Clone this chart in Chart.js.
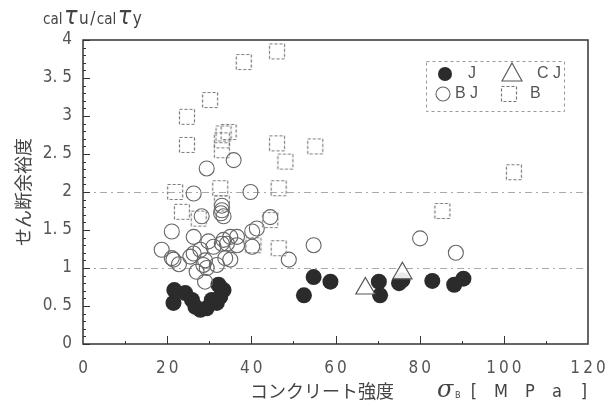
<!DOCTYPE html>
<html lang="ja">
<head>
<meta charset="UTF-8">
<title>せん断余裕度</title>
<script src="https://cdn.jsdelivr.net/npm/chart.js"></script>
<style>
  body, html { margin: 0; padding: 0; background: #fff; }
  #wrap { width: 605px; height: 407px; }
</style>
</head>
<body>
<div id="wrap"><canvas id="chart" width="605" height="407"></canvas></div>
<script>
// J (filled circles)
const jX = [21.7, 21.5, 24.3, 25.9, 27.9, 26.7, 29.4, 32.2, 32.6, 31.8, 30.6, 33.4, 52.5, 54.8, 58.8, 70.3, 70.6, 75.1, 75.9, 83.0, 88.2, 90.4];
const jY = [0.71, 0.54, 0.67, 0.58, 0.45, 0.49, 0.47, 0.78, 0.62, 0.54, 0.58, 0.71, 0.64, 0.88, 0.82, 0.82, 0.64, 0.80, 0.84, 0.83, 0.78, 0.86];
// CJ (triangles)
const cjX = [67.1, 75.9];
const cjY = [0.73, 0.93];
// BJ (open circles)
const bjX = [18.7, 21.1, 21.1, 21.5, 22.8, 26.3, 26.3, 25.5, 27.9, 28.6, 29.0, 29.4, 29.8, 29.0, 31.0, 31.8, 33.0, 33.8, 34.2, 35.0, 35.0, 36.6, 36.6, 40.2, 40.2, 41.3, 44.5, 29.4, 35.8, 26.3, 39.8, 33.0, 33.4, 33.0, 32.8, 28.2, 33.4, 27.0, 48.9, 54.8, 80.1, 88.6];
const bjY = [1.24, 1.48, 1.13, 1.11, 1.05, 1.41, 1.19, 1.15, 1.24, 1.04, 1.10, 1.00, 1.35, 0.82, 1.28, 1.04, 1.32, 1.13, 1.32, 1.11, 1.41, 1.41, 1.30, 1.48, 1.28, 1.52, 1.67, 2.31, 2.42, 1.98, 2.00, 1.76, 1.68, 1.82, 1.72, 1.68, 1.37, 0.95, 1.11, 1.30, 1.39, 1.20];
// B (dashed squares)
const bX = [46.1, 38.2, 30.2, 24.7, 33.4, 34.6, 24.7, 33.0, 33.0, 46.1, 48.1, 55.2, 46.5, 44.5, 46.5, 21.9, 32.6, 23.5, 27.5, 33.0, 40.5, 85.4, 102.4];
const bY = [3.85, 3.71, 3.21, 2.99, 2.77, 2.79, 2.62, 2.68, 2.55, 2.64, 2.40, 2.60, 2.05, 1.63, 1.26, 2.00, 2.05, 1.74, 1.65, 1.85, 1.30, 1.75, 2.26];

const xTicks = [0, 20, 40, 60, 80, 100, 120];
const yTicks = [0, 0.5, 1, 1.5, 2, 2.5, 3, 3.5, 4];
const refLines = [1, 2];

const tickFont = "'Liberation Sans Narrow', 'DejaVu Sans Condensed', 'Liberation Sans', sans-serif";
const jpFont = "'Noto Sans CJK JP', sans-serif";

function toPts(xs, ys) {
    return xs.map((x, i) => ({ x: x, y: ys[i] }));
}

// dashed square used for the B series
const sq = document.createElement('canvas');
sq.width = 18; sq.height = 18;
(function () {
    const c = sq.getContext('2d');
    c.strokeStyle = '#777';
    c.lineWidth = 1.2;
    c.setLineDash([3, 2]);
    c.strokeRect(1.5, 1.5, 15, 15);
})();

const decor = {
    id: 'decor',
    beforeDatasetsDraw(chart) {
        const ctx = chart.ctx, a = chart.chartArea, ys = chart.scales.y;
        ctx.save();
        ctx.strokeStyle = '#aaa';
        ctx.lineWidth = 1;
        ctx.setLineDash([7, 4, 2, 4]);
        refLines.forEach(v => {
            const py = Math.round(ys.getPixelForValue(v)) + 0.5;
            ctx.beginPath();
            ctx.moveTo(a.left, py);
            ctx.lineTo(a.right, py);
            ctx.stroke();
        });
        ctx.restore();
    },
    afterDatasetsDraw(chart) {
        const ctx = chart.ctx, a = chart.chartArea;
        const xs = chart.scales.x, ys = chart.scales.y;
        ctx.save();
        // frame
        ctx.strokeStyle = '#333';
        ctx.lineWidth = 1.5;
        ctx.strokeRect(a.left, a.top, a.right - a.left, a.bottom - a.top);
        // inner ticks
        ctx.lineWidth = 1;
        for (let i = 0; i <= 40; i++) {
            const v = i / 10;
            const py = Math.round(ys.getPixelForValue(v)) + 0.5;
            const len = (i % 5 === 0) ? 7 : 3;
            ctx.beginPath();
            ctx.moveTo(a.left, py);
            ctx.lineTo(a.left + len, py);
            ctx.stroke();
        }
        for (let v = 10; v < 120; v += 10) {
            const px = Math.round(xs.getPixelForValue(v)) + 0.5;
            const len = (v % 20 === 0) ? 8 : 3;
            ctx.beginPath();
            ctx.moveTo(px, a.bottom);
            ctx.lineTo(px, a.bottom - len);
            ctx.stroke();
        }

        // legend box
        ctx.strokeStyle = '#999';
        ctx.setLineDash([3, 3]);
        ctx.strokeRect(426.5, 61.5, 138, 50);
        ctx.setLineDash([]);
        ctx.fillStyle = '#2b2b2b';
        ctx.beginPath(); ctx.arc(445, 74, 7, 0, Math.PI * 2); ctx.fill();
        ctx.strokeStyle = '#666';
        ctx.lineWidth = 1.1;
        ctx.beginPath(); ctx.arc(443, 94, 7, 0, Math.PI * 2); ctx.stroke();
        ctx.strokeStyle = '#555';
        ctx.beginPath();
        ctx.moveTo(512, 63); ctx.lineTo(522, 81); ctx.lineTo(502, 81); ctx.closePath();
        ctx.stroke();
        ctx.drawImage(sq, 500, 85);
        ctx.fillStyle = '#555';
        ctx.font = "16px 'Liberation Sans', sans-serif";
        ctx.textBaseline = 'middle';
        ctx.textAlign = 'left';
        ctx.fillText('J', 468, 74);
        ctx.fillText('C J', 537, 74);
        ctx.fillText('B J', 455, 94);
        ctx.fillText('B', 530, 94);

        // top-left unit label  calτu / calτy
        ctx.fillStyle = '#444';
        ctx.textBaseline = 'alphabetic';
        let x = 43;
        const parts = [['cal', 15, ''], ['τ', 25, 'italic '], ['u', 17, ''], ['/', 17, ''], ['cal', 15, ''], ['τ', 25, 'italic '], ['y', 17, '']];
        parts.forEach(p => {
            ctx.font = p[2] + p[1] + 'px ' + tickFont;
            ctx.fillText(p[0], x, 24);
            x += ctx.measureText(p[0]).width + 1.5;
        });

        // x axis title
        ctx.font = '18px ' + jpFont;
        ctx.fillText('コンクリート強度', 250, 398);
        ctx.font = "italic 24px 'DejaVu Serif', serif";
        ctx.fillText('σ', 437, 397);
        ctx.font = '9px ' + tickFont;
        ctx.fillText('B', 455, 398);
        ctx.font = '18px ' + tickFont;
        ctx.textAlign = 'center';
        [['[', 474], ['M', 501], ['P', 530], ['a', 557], [']', 584]].forEach(c => {
            ctx.fillText(c[0], c[1], 397);
        });
        ctx.restore();
    }
};

new Chart(document.getElementById('chart'), {
    type: 'scatter',
    data: {
        datasets: [
            { label: 'B', data: toPts(bX, bY), pointStyle: sq },
            { label: 'BJ', data: toPts(bjX, bjY), pointStyle: 'circle', pointRadius: 7.5,
              borderColor: '#666', borderWidth: 1.1, backgroundColor: 'rgba(0,0,0,0)' },
            { label: 'CJ', data: toPts(cjX, cjY), pointStyle: 'triangle', pointRadius: 11,
              borderColor: '#555', borderWidth: 1.2, backgroundColor: 'rgba(255,255,255,0.9)' },
            { label: 'J', data: toPts(jX, jY), pointStyle: 'circle', pointRadius: 8,
              borderColor: '#2b2b2b', borderWidth: 0, backgroundColor: '#2b2b2b' }
        ]
    },
    plugins: [decor],
    options: {
        responsive: false,
        animation: false,
        events: [],
        layout: { padding: { top: 40, right: 17, left: 0, bottom: 0 } },
        plugins: { legend: { display: false }, tooltip: { enabled: false } },
        scales: {
            x: {
                type: 'linear', min: 0, max: 120,
                afterBuildTicks: s => { s.ticks = xTicks.map(v => ({ value: v })); },
                afterFit: s => { s.height = 63; s.paddingLeft = 0; s.paddingRight = 0; },
                grid: { display: false, drawTicks: false },
                border: { display: false },
                ticks: {
                    padding: 14, color: '#555',
                    font: { family: tickFont, size: 17 },
                    callback: v => String(v).split('').join('\u2009')
                }
            },
            y: {
                type: 'linear', min: 0, max: 4,
                afterBuildTicks: s => { s.ticks = yTicks.map(v => ({ value: v })); },
                afterFit: s => { s.width = 83; s.paddingTop = 0; s.paddingBottom = 0; },
                grid: { display: false, drawTicks: false },
                border: { display: false },
                title: {
                    display: true, text: 'せん断余裕度', color: '#444',
                    font: { family: jpFont, size: 18 }, padding: { top: 12, bottom: 0 }
                },
                ticks: {
                    padding: 11, color: '#555',
                    font: { family: tickFont, size: 17 },
                    callback: v => String(v).replace('.', '. ')
                }
            }
        }
    }
});
</script>
</body>
</html>
